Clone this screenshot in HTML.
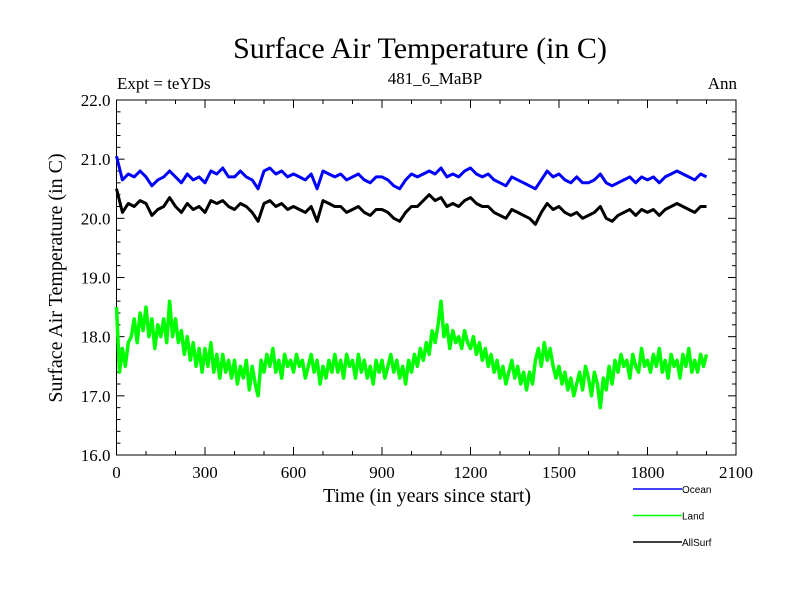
<!DOCTYPE html>
<html><head><meta charset="utf-8"><style>
body{margin:0;background:#fff;}
svg{display:block;font-family:"Liberation Serif",serif;}
</style></head><body>
<svg id="chart" width="800" height="600">
<text x="420" y="58" font-size="30" text-anchor="middle">Surface Air Temperature (in C)</text>
<text x="117" y="89" font-size="17">Expt = teYDs</text>
<text x="435" y="84" font-size="17" text-anchor="middle">481_6_MaBP</text>
<text x="737" y="89" font-size="17" text-anchor="end">Ann</text>
<text transform="translate(62,278) rotate(-90)" font-size="20" text-anchor="middle">Surface Air Temperature (in C)</text>
<text x="427" y="502" font-size="20" text-anchor="middle">Time (in years since start)</text>
<g id="axes"></g>
<g id="series"></g>
<g id="legend" font-family="Liberation Sans, sans-serif" font-size="10"></g>
</svg>
<script>
const xTicks=[0,300,600,900,1200,1500,1800,2100];
const yTicks=[16.0,17.0,18.0,19.0,20.0,21.0,22.0];
const seriesNames=["Ocean","Land","AllSurf"];
const oceanVals=[21.05,20.65,20.75,20.7,20.8,20.7,20.55,20.65,20.7,20.8,
20.7,20.6,20.75,20.65,20.7,20.6,20.8,20.75,20.85,20.7,
20.7,20.8,20.7,20.65,20.5,20.8,20.85,20.75,20.8,20.7,
20.75,20.7,20.65,20.75,20.5,20.8,20.75,20.7,20.75,20.65,
20.7,20.75,20.65,20.6,20.7,20.7,20.65,20.55,20.5,20.65,
20.75,20.7,20.75,20.8,20.75,20.85,20.7,20.75,20.7,20.8,
20.85,20.75,20.7,20.75,20.65,20.6,20.55,20.7,20.65,20.6,
20.55,20.5,20.65,20.8,20.7,20.75,20.65,20.6,20.7,20.6,
20.6,20.65,20.75,20.6,20.55,20.6,20.65,20.7,20.6,20.7,
20.65,20.7,20.6,20.7,20.75,20.8,20.75,20.7,20.65,20.75,20.7];
const allSurfVals=[20.5,20.1,20.25,20.2,20.3,20.25,20.05,20.15,20.2,20.35,
20.2,20.1,20.25,20.15,20.2,20.1,20.3,20.25,20.3,20.2,
20.15,20.25,20.2,20.1,19.95,20.25,20.3,20.2,20.25,20.15,
20.2,20.15,20.1,20.2,19.95,20.3,20.25,20.2,20.2,20.1,
20.15,20.2,20.1,20.05,20.15,20.15,20.1,20.0,19.95,20.1,
20.2,20.2,20.3,20.4,20.3,20.35,20.2,20.25,20.2,20.3,
20.35,20.25,20.2,20.2,20.1,20.05,20.0,20.15,20.1,20.05,
20.0,19.9,20.1,20.25,20.15,20.2,20.1,20.05,20.1,20.0,
20.05,20.1,20.2,20.0,19.95,20.05,20.1,20.15,20.05,20.15,
20.1,20.15,20.05,20.15,20.2,20.25,20.2,20.15,20.1,20.2,20.2];
const landVals=[18.5,17.4,17.8,17.5,17.9,18.0,18.3,17.9,18.4,18.1,
18.5,18.0,18.3,17.8,18.2,18.0,18.3,17.9,18.6,18.0,
18.3,17.9,18.1,17.7,18.0,17.6,17.9,17.5,17.8,17.4,
17.8,17.5,17.9,17.4,17.7,17.3,17.7,17.4,17.6,17.3,
17.6,17.2,17.5,17.3,17.6,17.1,17.5,17.2,17.0,17.6,
17.4,17.7,17.5,17.8,17.4,17.6,17.3,17.7,17.5,17.6,
17.4,17.7,17.5,17.6,17.3,17.5,17.7,17.4,17.6,17.2,
17.5,17.3,17.6,17.4,17.7,17.4,17.6,17.3,17.7,17.5,
17.6,17.3,17.7,17.4,17.6,17.3,17.5,17.2,17.6,17.4,
17.6,17.3,17.5,17.7,17.4,17.6,17.3,17.5,17.2,17.6,
17.4,17.7,17.5,17.8,17.6,17.9,17.7,18.1,17.9,18.2,
18.6,18.0,18.2,17.8,18.1,17.9,18.0,17.8,18.1,17.9,
17.8,18.0,17.7,17.9,17.6,17.8,17.5,17.7,17.4,17.6,
17.3,17.5,17.2,17.4,17.6,17.3,17.5,17.2,17.4,17.1,
17.4,17.2,17.6,17.8,17.5,17.9,17.6,17.8,17.5,17.3,
17.5,17.2,17.4,17.1,17.3,17.0,17.2,17.4,17.1,17.5,
17.3,17.0,17.4,17.2,16.8,17.3,17.1,17.5,17.2,17.6,
17.4,17.7,17.5,17.6,17.3,17.7,17.5,17.4,17.8,17.5,
17.6,17.4,17.7,17.5,17.8,17.4,17.6,17.3,17.7,17.5,
17.6,17.3,17.7,17.5,17.8,17.4,17.6,17.4,17.7,17.5,17.7];
const oceanStep=20, allSurfStep=20, landStep=10;

const X0=116.5,X1=736,Y0=455,Y1=100;
const xs=v=>X0+(v-0)/(2100-0)*(X1-X0);
const ys=v=>Y0-(v-16)/(22-16)*(Y0-Y1);
const NS="http://www.w3.org/2000/svg";
function mk(tag,attrs,parent){const e=document.createElementNS(NS,tag);for(const k in attrs)e.setAttribute(k,attrs[k]);parent.appendChild(e);return e;}
const axes=document.getElementById('axes');
const frame=mk('rect',{x:X0,y:Y1,width:X1-X0,height:Y0-Y1,fill:'none',stroke:'#000','stroke-width':1},axes);


for(let v=0;v<=2100;v+=100){const big=v%300===0;const x=xs(v);
 mk('line',{x1:x,x2:x,y1:Y0,y2:Y0-(big?8:4),stroke:'#000'},axes);
 mk('line',{x1:x,x2:x,y1:Y1,y2:Y1+(big?8:4),stroke:'#000'},axes);}
for(let i=0;i<=30;i++){const v=16+i*0.2;const big=i%5===0;const y=ys(v);
 mk('line',{x1:X0,x2:X0+(big?8:4),y1:y,y2:y,stroke:'#000'},axes);
 mk('line',{x1:X1,x2:X1-(big?8:4),y1:y,y2:y,stroke:'#000'},axes);}
xTicks.forEach(v=>{const t=mk('text',{x:xs(v),y:Y0+23,'font-size':17,'text-anchor':'middle'},axes);t.textContent=v;
 
 });
yTicks.forEach(v=>{const t=mk('text',{x:X0-6,y:ys(v)+6,'font-size':17,'text-anchor':'end'},axes);t.textContent=v.toFixed(1);
 
 });
const sg=document.getElementById('series');
function drawLine(vals,step,color,name,w){
 const pts=vals.map((v,i)=>xs(i*step).toFixed(1)+','+ys(v).toFixed(1)).join(' ');
 const p=mk('polyline',{points:pts,fill:'none',stroke:color,'stroke-width':w,'stroke-linejoin':'round'},sg);
 
 }
drawLine(oceanVals,oceanStep,'#0000ff','ocean-line',3);
drawLine(landVals,landStep,'#00ff00','land-line',3.5);
drawLine(allSurfVals,allSurfStep,'#000000','allsurf-line',3);
const lg=document.getElementById('legend');
const colors=['#0000ff','#00ff00','#000000'];
seriesNames.forEach((n,i)=>{const y=489+i*26.5;
 const l=mk('line',{x1:633,x2:682,y1:y,y2:y,stroke:colors[i],'stroke-width':1.5},lg);
 
 
 const t=mk('text',{x:682,y:y+4},lg);t.textContent=n;
 
 });
</script>
</body></html>
